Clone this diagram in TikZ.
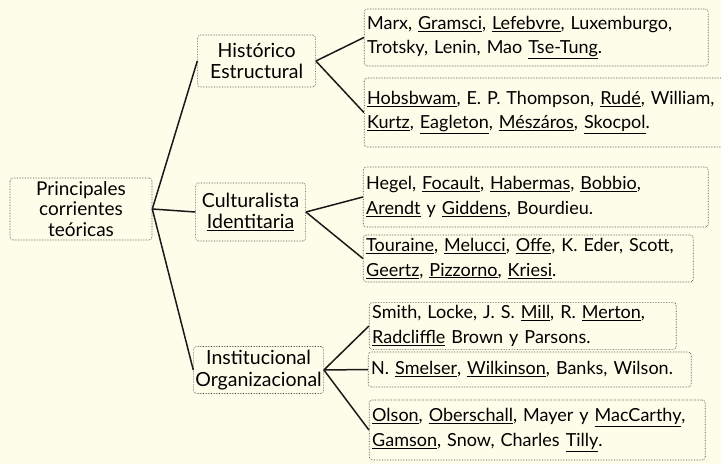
\documentclass[tikz,border=0pt]{standalone}
\usepackage{fontspec}
\setmainfont{Lato}
\usetikzlibrary{positioning}
\definecolor{paper}{RGB}{253,253,234}
\frenchspacing
\hyphenpenalty=10000
\tikzstyle{box}=[draw=black!75,densely dotted,line width=0.6pt,rounded corners=3pt,
  inner sep=3pt,font=\fontsize{19.5}{21.5}\selectfont,text=black]
\tikzstyle{mid}=[box,align=center]
\tikzstyle{leaf}=[box,align=left,font=\fontsize{18}{24.5}\selectfont]
\tikzstyle{link}=[line width=1.5pt,black!90]
\newcommand{\newBox}[4]{\node[#3](#1)[#4]{#2};}
\newcommand{\newLink}[2]{\draw[link] (#1.east) -- (#2.west);}
\newcommand{\ulname}[1]{\underline{#1}}

\begin{document}
\begin{tikzpicture}[x=1pt,y=-1pt,node distance=45pt]
  \fill[paper] (0,0) rectangle (721,464);
  \useasboundingbox (0,0) rectangle (721,464);
  % root and the three currents
  \newBox{root}{Principales\\corrientes\\teóricas}{mid,font=\fontsize{19}{20.5}\selectfont,minimum width=142pt,minimum height=62pt}{at={(81,209)}}
  \newBox{hist}{Histórico\\Estructural}{mid,minimum width=118pt,minimum height=52pt}{right=45pt of root,yshift=148pt}
  \newBox{cult}{Culturalista\\\ulname{Identitaria}}{mid,minimum width=110pt,minimum height=58pt}{right=43pt of root,yshift=-3pt}
  \newBox{inst}{Institucional\\Organizacional}{mid,minimum width=130pt,minimum height=47pt,inner xsep=1pt}{right=41pt of root,yshift=-161pt}
  % authors
  \newBox{h1}{Marx, \ulname{Gramsci}, \ulname{Lefebvre}, Luxemburgo,\\Trotsky, Lenin, Mao \ulname{Tse-Tung}.}{leaf,text width=338pt,minimum height=57pt}{right=48pt of hist,yshift=23.5pt}
  \newBox{h2}{\ulname{Hobsbwam}, E. P. Thompson, \ulname{Rudé}, William,\\\ulname{Kurtz}, \ulname{Eagleton}, \ulname{Mészáros}, \ulname{Skocpol}.}{leaf,text width=360pt,minimum height=69pt}{right=48pt of hist,yshift=-51.5pt}
  \newBox{c1}{Hegel, \ulname{Focault}, \ulname{Habermas}, \ulname{Bobbio},\\\ulname{Arendt} y \ulname{Giddens}, Bourdieu.}{leaf,text width=339pt,minimum height=60pt}{right=57pt of cult,yshift=15pt}
  \newBox{c2}{\ulname{Touraine}, \ulname{Melucci}, \ulname{Offe}, K. Eder, Scott,\\\ulname{Geertz}, \ulname{Pizzorno}, \ulname{Kriesi}.}{leaf,text width=324pt,minimum height=47pt}{right=57pt of cult,yshift=-46.5pt}
  \newBox{i1}{Smith, Locke, J. S. \ulname{Mill}, R. \ulname{Merton},\\\ulname{Radcliffle} Brown y Parsons.}{leaf,text width=301pt,minimum height=42pt}{right=45pt of inst,yshift=44pt}
  \newBox{i2}{N. \ulname{Smelser}, \ulname{Wilkinson}, Banks, Wilson.}{leaf,text width=317pt,minimum height=35pt}{right=44pt of inst,yshift=0.5pt}
  \newBox{i3}{\ulname{Olson}, \ulname{Oberschall}, Mayer y \ulname{MacCarthy},\\\ulname{Gamson}, Snow, Charles \ulname{Tilly}.}{leaf,text width=330pt,minimum height=60pt}{right=45pt of inst,yshift=-60pt}
  % connectors
  \newLink{root}{hist}
  \newLink{root}{cult}
  \newLink{root}{inst}
  \newLink{hist}{h1}
  \newLink{hist}{h2}
  \newLink{cult}{c1}
  \newLink{cult}{c2}
  \newLink{inst}{i1}
  \newLink{inst}{i2}
  \newLink{inst}{i3}
\end{tikzpicture}
\end{document}
